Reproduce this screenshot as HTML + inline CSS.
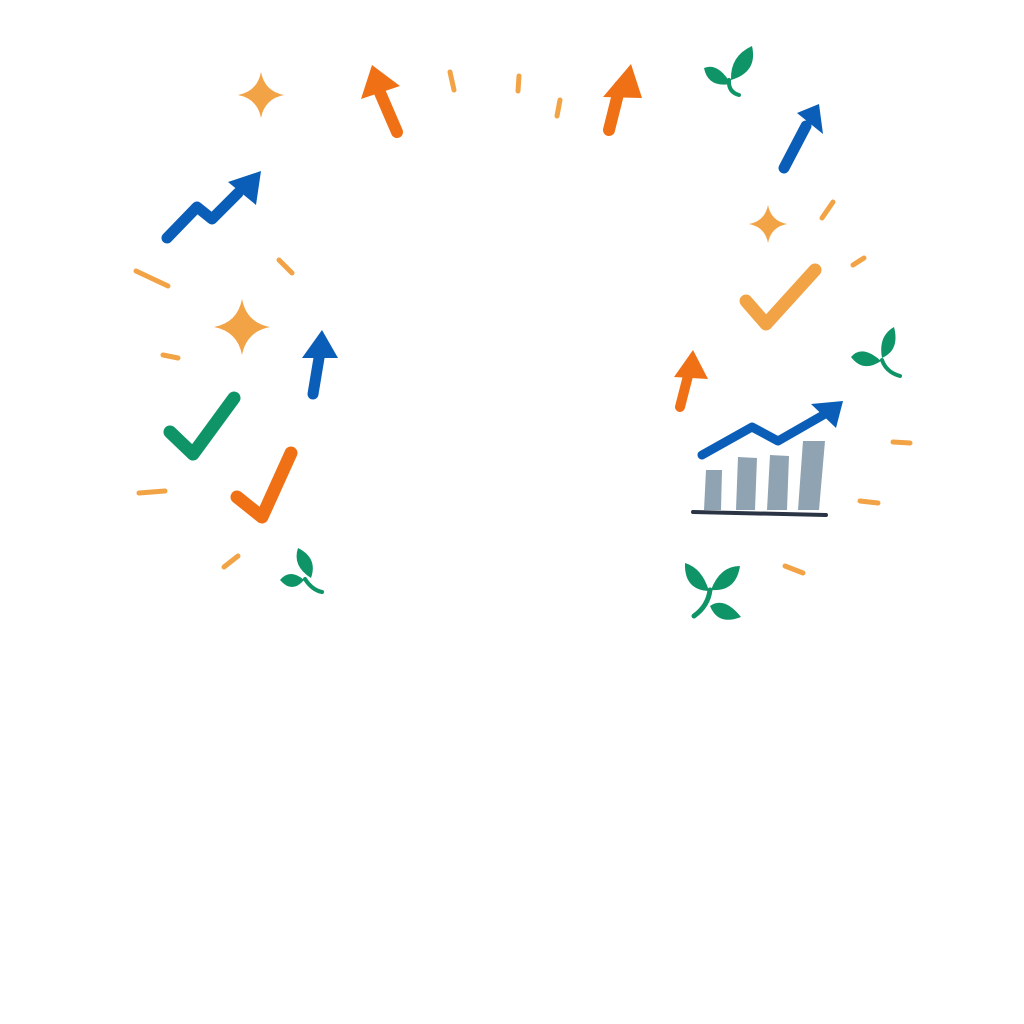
<!DOCTYPE html><html><head><style>html,body{margin:0;padding:0;background:#fff}svg{display:block}</style></head><body>
<svg width="1024" height="1024" viewBox="0 0 1024 1024" xmlns="http://www.w3.org/2000/svg">
<defs>
<symbol id="sp" viewBox="-10 -10 20 20"><path d="M0,-10 Q1.6,-1.6 10,0 Q1.6,1.6 0,10 Q-1.6,1.6 -10,0 Q-1.6,-1.6 0,-10Z" fill="#F2A345"/></symbol>
</defs>
<g stroke="#F2A345" stroke-width="5" stroke-linecap="round" fill="none">
<line x1="450" y1="72" x2="454" y2="90"/><line x1="519" y1="76" x2="518" y2="91"/><line x1="560" y1="100" x2="557" y2="116"/>
<line x1="136" y1="271" x2="168" y2="286"/><line x1="279" y1="260" x2="292" y2="273"/><line x1="163" y1="355" x2="178" y2="358"/>
<line x1="139" y1="493" x2="165" y2="491"/><line x1="224" y1="567" x2="238" y2="556"/>
<line x1="822" y1="218" x2="833" y2="202"/><line x1="853" y1="265" x2="864" y2="258"/>
<line x1="893" y1="442" x2="910" y2="443"/><line x1="860" y1="501" x2="878" y2="503"/><line x1="785" y1="566" x2="803" y2="573"/>
</g>
<use href="#sp" x="238" y="71" width="46" height="48"/>
<use href="#sp" x="214" y="299" width="56" height="56"/>
<use href="#sp" x="749" y="205" width="38" height="38"/>
<g stroke-linecap="round" stroke-linejoin="round">
<line x1="397" y1="132" x2="378" y2="88" stroke="#F07016" stroke-width="12"/>
<polygon points="361,99 372,65 400,86" fill="#F07016"/>
<line x1="609" y1="130" x2="620" y2="86" stroke="#F07016" stroke-width="12"/>
<polygon points="603,97 631,64 642,98" fill="#F07016"/>
<line x1="784" y1="168" x2="806" y2="126" stroke="#0A5EB8" stroke-width="11"/>
<polygon points="797,113 819,104 823,134" fill="#0A5EB8"/>
<polyline points="167,238 197,207 212,219 238,193" stroke="#0A5EB8" stroke-width="11" fill="none"/>
<polygon points="228,182 261,171 256,205" fill="#0A5EB8"/>
<line x1="313" y1="394" x2="320" y2="352" stroke="#0A5EB8" stroke-width="11"/>
<polygon points="302,358 322,330 338,358" fill="#0A5EB8"/>
<line x1="680" y1="407" x2="689" y2="372" stroke="#F07016" stroke-width="10"/>
<polygon points="674,377 693,350 708,379" fill="#F07016"/>
<polyline points="170,432 193,454 234,398" stroke="#0E9466" stroke-width="13" fill="none"/>
<polyline points="237,497 262,517 291,453" stroke="#F07016" stroke-width="13" fill="none"/>
<polyline points="746,301 766,324 815,270" stroke="#F2A345" stroke-width="13" fill="none"/>
</g>
<g fill="#8FA3B3">
<path d="M706,470 L722,470 L721,510 L704,510Z"/><path d="M738,457 L757,458 L755,510 L736,510Z"/>
<path d="M770,455 L789,456 L787,510 L767,510Z"/><path d="M803,441 L825,441 L819,510 L798,510Z"/>
</g>
<line x1="693" y1="512" x2="826" y2="515" stroke="#2B3445" stroke-width="4" stroke-linecap="round"/>
<polyline points="702,455 752,427 778,441 825,414" stroke="#0A5EB8" stroke-width="9" fill="none" stroke-linecap="round" stroke-linejoin="round"/>
<polygon points="811,404 843,401 836,428" fill="#0A5EB8"/>
<g fill="#0E9466">
<path d="M731,84 Q718,62 704,68 Q708,88 731,84Z"/><path d="M731,80 Q730,56 752,46 Q758,72 731,80Z"/><path d="M729,80 Q728,92 739,95" stroke="#0E9466" stroke-width="4" fill="none" stroke-linecap="round"/>
<path d="M881,361 Q862,344 851,357 Q863,373 881,361Z"/><path d="M882,358 Q878,336 894,327 Q900,350 882,358Z"/><path d="M882,360 Q886,372 900,376" stroke="#0E9466" stroke-width="4" fill="none" stroke-linecap="round"/>
<path d="M304,580 Q290,568 280,580 Q292,594 304,580Z"/><path d="M311,578 Q292,566 298,548 Q318,558 311,578Z"/><path d="M305,579 Q312,590 322,592" stroke="#0E9466" stroke-width="4" fill="none" stroke-linecap="round"/>
<path d="M709,591 Q702,568 685,563 Q684,590 709,591Z"/><path d="M711,590 Q720,566 740,566 Q736,592 711,590Z"/>
<path d="M710,606 Q724,596 741,617 Q718,626 710,606Z"/><path d="M710,590 Q708,606 694,616" stroke="#0E9466" stroke-width="5" fill="none" stroke-linecap="round"/>
</g>
</svg>
</body></html>
